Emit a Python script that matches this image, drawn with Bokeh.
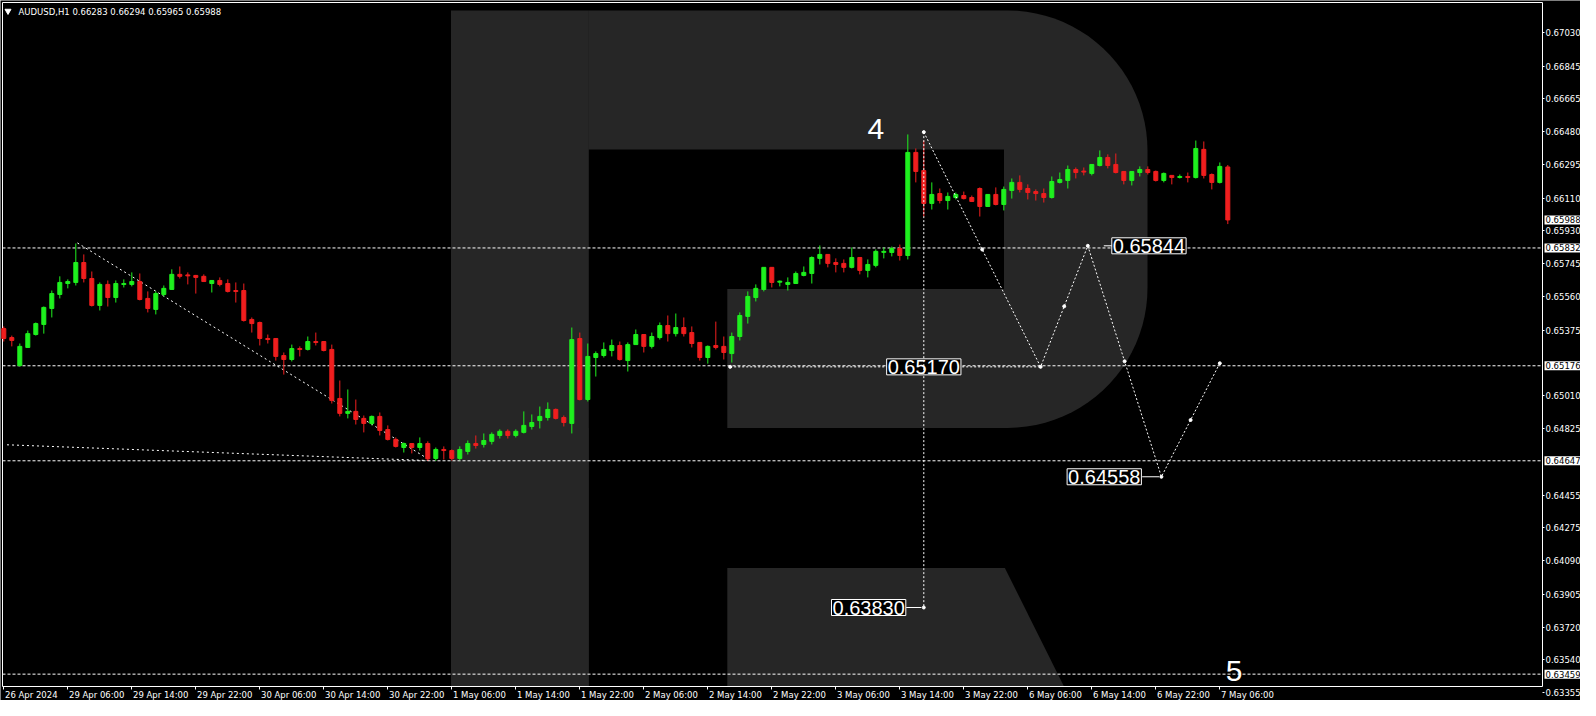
import numpy as np
from bokeh.plotting import figure
from bokeh.models import FixedTicker, PrintfTickFormatter, Label, ColumnDataSource, LinearAxis
from bokeh.embed import file_html
from bokeh.resources import INLINE

# ---------------- data ----------------
title_text = "AUDUSD,H1  0.66283 0.66294 0.65965 0.65988"
time_labels = ["26 Apr 2024", "29 Apr 06:00", "29 Apr 14:00", "29 Apr 22:00", "30 Apr 06:00",
               "30 Apr 14:00", "30 Apr 22:00", "1 May 06:00", "1 May 14:00", "1 May 22:00",
               "2 May 06:00", "2 May 14:00", "2 May 22:00", "3 May 06:00", "3 May 14:00",
               "3 May 22:00", "6 May 06:00", "6 May 14:00", "6 May 22:00", "7 May 06:00"]
bars_per_label = 8

opens = [0.65383, 0.65333, 0.65177, 0.65278, 0.65350, 0.65406, 0.65495, 0.65573, 0.65634, 0.65640,
         0.65751, 0.65662, 0.65512, 0.65629, 0.65556, 0.65631, 0.65629, 0.65645, 0.65551, 0.65490,
         0.65573, 0.65601, 0.65685, 0.65682, 0.65679, 0.65674, 0.65634, 0.65651, 0.65634, 0.65595,
         0.65595, 0.65434, 0.65417, 0.65328, 0.65328, 0.65233, 0.65211, 0.65272, 0.65267, 0.65311,
         0.65311, 0.65267, 0.64994, 0.64911, 0.64922, 0.64883, 0.64855, 0.64894, 0.64821, 0.64766,
         0.64721, 0.64743, 0.64721, 0.64743, 0.64660, 0.64710, 0.64704, 0.64660, 0.64699, 0.64743,
         0.64738, 0.64755, 0.64788, 0.64811, 0.64788, 0.64805, 0.64838, 0.64871, 0.64888, 0.64933,
         0.64888, 0.64855, 0.65328, 0.64988, 0.65222, 0.65233, 0.65261, 0.65289, 0.65205, 0.65294,
         0.65350, 0.65284, 0.65333, 0.65400, 0.65355, 0.65389, 0.65361, 0.65306, 0.65222, 0.65289,
         0.65284, 0.65244, 0.65339, 0.65451, 0.65556, 0.65601, 0.65724, 0.65645, 0.65629, 0.65634,
         0.65679, 0.65690, 0.65774, 0.65796, 0.65751, 0.65746, 0.65724, 0.65779, 0.65707, 0.65735,
         0.65810, 0.65807, 0.65829, 0.65790, 0.66364, 0.66263, 0.66080, 0.66135, 0.66096, 0.66113,
         0.66124, 0.66113, 0.66163, 0.66063, 0.66130, 0.66074, 0.66152, 0.66197, 0.66163, 0.66146,
         0.66135, 0.66113, 0.66197, 0.66208, 0.66269, 0.66260, 0.66247, 0.66291, 0.66336, 0.66297,
         0.66258, 0.66208, 0.66252, 0.66269, 0.66258, 0.66208, 0.66236, 0.66227, 0.66230, 0.66224,
         0.66381, 0.66241, 0.66197, 0.66283]
highs = [0.65395, 0.65344, 0.65300, 0.65372, 0.65417, 0.65506, 0.65595, 0.65674, 0.65657, 0.65857,
         0.65796, 0.65701, 0.65640, 0.65651, 0.65651, 0.65657, 0.65696, 0.65690, 0.65590, 0.65590,
         0.65623, 0.65713, 0.65729, 0.65696, 0.65682, 0.65685, 0.65651, 0.65668, 0.65657, 0.65640,
         0.65634, 0.65445, 0.65422, 0.65350, 0.65328, 0.65250, 0.65294, 0.65284, 0.65339, 0.65361,
         0.65311, 0.65294, 0.65094, 0.65044, 0.64988, 0.64899, 0.64899, 0.64916, 0.64844, 0.64777,
         0.64749, 0.64743, 0.64777, 0.64755, 0.64721, 0.64727, 0.64710, 0.64727, 0.64760, 0.64788,
         0.64799, 0.64805, 0.64822, 0.64822, 0.64822, 0.64922, 0.64905, 0.64949, 0.64972, 0.64938,
         0.64899, 0.65389, 0.65361, 0.65300, 0.65256, 0.65306, 0.65322, 0.65311, 0.65306, 0.65378,
         0.65350, 0.65361, 0.65417, 0.65456, 0.65467, 0.65445, 0.65395, 0.65306, 0.65289, 0.65422,
         0.65339, 0.65361, 0.65473, 0.65590, 0.65629, 0.65724, 0.65724, 0.65651, 0.65668, 0.65701,
         0.65729, 0.65785, 0.65846, 0.65796, 0.65774, 0.65768, 0.65835, 0.65779, 0.65768, 0.65824,
         0.65835, 0.65840, 0.65851, 0.66464, 0.66386, 0.66430, 0.66197, 0.66163, 0.66141, 0.66141,
         0.66146, 0.66124, 0.66169, 0.66130, 0.66169, 0.66174, 0.66219, 0.66236, 0.66186, 0.66158,
         0.66163, 0.66230, 0.66252, 0.66291, 0.66280, 0.66280, 0.66297, 0.66375, 0.66353, 0.66358,
         0.66258, 0.66258, 0.66286, 0.66286, 0.66263, 0.66252, 0.66236, 0.66241, 0.66252, 0.66430,
         0.66425, 0.66247, 0.66308, 0.66294]
lows = [0.65311, 0.65284, 0.65172, 0.65278, 0.65344, 0.65355, 0.65445, 0.65551, 0.65607, 0.65623,
        0.65640, 0.65506, 0.65484, 0.65506, 0.65528, 0.65612, 0.65618, 0.65540, 0.65473, 0.65462,
        0.65562, 0.65601, 0.65662, 0.65629, 0.65578, 0.65645, 0.65584, 0.65618, 0.65584, 0.65528,
        0.65422, 0.65361, 0.65289, 0.65300, 0.65205, 0.65127, 0.65200, 0.65228, 0.65261, 0.65289,
        0.65256, 0.64966, 0.64894, 0.64883, 0.64849, 0.64805, 0.64844, 0.64788, 0.64760, 0.64721,
        0.64693, 0.64688, 0.64704, 0.64647, 0.64647, 0.64654, 0.64648, 0.64650, 0.64682, 0.64715,
        0.64721, 0.64738, 0.64771, 0.64771, 0.64777, 0.64799, 0.64821, 0.64827, 0.64871, 0.64877,
        0.64838, 0.64799, 0.64983, 0.64977, 0.65116, 0.65222, 0.65228, 0.65205, 0.65144, 0.65294,
        0.65250, 0.65272, 0.65322, 0.65311, 0.65339, 0.65339, 0.65278, 0.65205, 0.65188, 0.65267,
        0.65211, 0.65194, 0.65317, 0.65411, 0.65534, 0.65590, 0.65612, 0.65618, 0.65595, 0.65634,
        0.65674, 0.65634, 0.65740, 0.65724, 0.65696, 0.65696, 0.65718, 0.65685, 0.65668, 0.65724,
        0.65774, 0.65785, 0.65762, 0.65768, 0.66197, 0.66007, 0.66046, 0.66080, 0.66046, 0.66102,
        0.66102, 0.66091, 0.66007, 0.66063, 0.66069, 0.66041, 0.66107, 0.66141, 0.66102, 0.66096,
        0.66085, 0.66107, 0.66191, 0.66163, 0.66219, 0.66236, 0.66236, 0.66286, 0.66275, 0.66247,
        0.66186, 0.66180, 0.66230, 0.66241, 0.66202, 0.66197, 0.66186, 0.66219, 0.66197, 0.66219,
        0.66219, 0.66158, 0.66191, 0.65965]
closes = [0.65328, 0.65317, 0.65284, 0.65355, 0.65411, 0.65501, 0.65578, 0.65640, 0.65645, 0.65751,
          0.65662, 0.65512, 0.65629, 0.65556, 0.65634, 0.65634, 0.65645, 0.65545, 0.65495, 0.65578,
          0.65607, 0.65685, 0.65674, 0.65678, 0.65668, 0.65645, 0.65651, 0.65629, 0.65590, 0.65590,
          0.65428, 0.65411, 0.65328, 0.65322, 0.65228, 0.65211, 0.65272, 0.65268, 0.65311, 0.65306,
          0.65261, 0.64983, 0.64911, 0.64922, 0.64877, 0.64855, 0.64894, 0.64816, 0.64766, 0.64727,
          0.64743, 0.64721, 0.64743, 0.64658, 0.64710, 0.64704, 0.64660, 0.64710, 0.64743, 0.64732,
          0.64760, 0.64794, 0.64811, 0.64788, 0.64811, 0.64844, 0.64860, 0.64894, 0.64933, 0.64883,
          0.64860, 0.65322, 0.64988, 0.65228, 0.65244, 0.65267, 0.65289, 0.65211, 0.65294, 0.65350,
          0.65284, 0.65339, 0.65400, 0.65355, 0.65389, 0.65355, 0.65300, 0.65222, 0.65284, 0.65278,
          0.65250, 0.65339, 0.65456, 0.65562, 0.65607, 0.65724, 0.65640, 0.65647, 0.65640, 0.65690,
          0.65696, 0.65779, 0.65796, 0.65746, 0.65740, 0.65724, 0.65779, 0.65707, 0.65740, 0.65813,
          0.65813, 0.65829, 0.65790, 0.66364, 0.66258, 0.66080, 0.66130, 0.66096, 0.66119, 0.66130,
          0.66107, 0.66091, 0.66063, 0.66130, 0.66074, 0.66158, 0.66197, 0.66158, 0.66141, 0.66135,
          0.66113, 0.66202, 0.66213, 0.66269, 0.66252, 0.66258, 0.66297, 0.66336, 0.66291, 0.66252,
          0.66208, 0.66258, 0.66269, 0.66252, 0.66208, 0.66247, 0.66224, 0.66230, 0.66227, 0.66386,
          0.66236, 0.66197, 0.66286, 0.65988]

level_prices = [0.65832, 0.65176, 0.64647, 0.63459]
current_price = 0.65988
y_tick_values = [0.67030, 0.66845, 0.66665, 0.66480, 0.66295, 0.66110, 0.65930, 0.65745, 0.65560,
                 0.65375, 0.65010, 0.64825, 0.64455, 0.64275, 0.64090, 0.63905, 0.63720, 0.63540,
                 0.63355]

# forecast path (bar index, price)
forecast_x = [115.0, 129.6, 135.5, 144.7, 152.0]
forecast_p = [0.66477, 0.65170, 0.65844, 0.64558, 0.65190]
forecast_texts = ["0.65170", "0.65844", "0.64558"]
target_price = 0.63830
target_text = "0.63830"
line_5170_start = 90.8
wave_labels = ["4", "5"]
wave_x = [109.0, 153.8]
wave_p = [0.66497, 0.63479]

trend1_x = [9.2, 53.3]
trend1_p = [0.65860, 0.64650]
trend2_x = [0.4, 53.3]
trend2_p = [0.64736, 0.64648]

# ---------------- geometry helpers (pixel -> data, for decorations) ----------------
BAR_PX = 8.0
PX_BAR0 = 3.3
PRICE_PER_PX = 0.00005568
PRICE_AT_Y0 = 0.6720985
W, H = 1580, 700
AXIS_X = 1542     # pixel x of the price-scale line
AXIS_Y = 686      # pixel y of the time-scale line
BORDER = 2


def PX(x):
    return (x - PX_BAR0) / BAR_PX


def PY(y):
    return PRICE_AT_Y0 - PRICE_PER_PX * y


X0, X1 = PX(0), PX(W)
Y1, Y0 = PY(0), PY(H)

GREEN = "#1ef01e"
RED = "#f01e1e"
WM = "#262626"
FONT = "DejaVu Sans"

p = figure(width=W, height=H, x_range=(X0, X1), y_range=(Y0, Y1),
           output_backend="svg", toolbar_location=None, y_axis_location="right",
           background_fill_color="black", border_fill_color="black", min_border=0)
p.grid.visible = False
p.outline_line_color = None

# ---- axes (fixed inside the canvas) ----
ya = p.yaxis[0]
ya.fixed_location = PX(AXIS_X)
ya.bounds = (PY(AXIS_Y), PY(BORDER))
ya.ticker = FixedTicker(ticks=y_tick_values)
ya.formatter = PrintfTickFormatter(format="%.5f")
ya.axis_line_color = "white"
ya.major_tick_line_color = "white"
ya.minor_tick_line_color = None
ya.major_tick_in = 0
ya.major_tick_out = 2
ya.major_label_standoff = 1
ya.major_label_text_color = "white"
ya.major_label_text_font = FONT
ya.major_label_text_font_size = "8.5px"

tick_pos = [k * bars_per_label for k in range(len(time_labels))]
xa = p.xaxis[0]
xa.fixed_location = PY(AXIS_Y)
xa.bounds = (PX(BORDER), PX(AXIS_X))
xa.ticker = FixedTicker(ticks=tick_pos)
xa.axis_line_color = "white"
xa.major_tick_line_color = "white"
xa.minor_tick_line_color = None
xa.major_tick_in = 0
xa.major_tick_out = 3
xa.major_label_text_color = None

# labels start at their tick: shift each label by half its (DejaVu Sans) width
EM = {"0": .636, "1": .636, "2": .636, "3": .636, "4": .636, "5": .636, "6": .636, "7": .636,
      "8": .636, "9": .636, " ": .318, ":": .337, "A": .684, "p": .635, "r": .411, "M": .863,
      "a": .613, "y": .592}
label_pos = [t + 0.5 * sum(EM.get(ch, .6) for ch in s) * 8.5 / BAR_PX + 0.15
             for t, s in zip(tick_pos, time_labels)]
la = LinearAxis(fixed_location=PY(AXIS_Y), ticker=FixedTicker(ticks=label_pos),
                major_label_overrides={lp: s for lp, s in zip(label_pos, time_labels)},
                axis_line_color=None, major_tick_line_color=None, minor_tick_line_color=None,
                major_tick_out=0, major_tick_in=0, major_label_standoff=3,
                major_label_text_color="white", major_label_text_font=FONT,
                major_label_text_font_size="8.5px")
p.add_layout(la, "below")

# ---------------- watermark "R" ----------------
r = 140
t1 = np.linspace(-np.pi / 2, 0, 24)
t2 = np.linspace(0, np.pi / 2, 24)
bowl_x = [588.4] + list(1007 + r * np.cos(t1)) + list(1007 + r * np.cos(t2)) + [588.4]
bowl_y = [10] + list(150 + r * np.sin(t1)) + list(287.4 + r * np.sin(t2)) + [427.4]
stem_x = [450.5, 588.4, 588.4, 450.5]
stem_y = [10, 10, AXIS_Y, AXIS_Y]
leg_x = [726.8, 1004.4, 1063.5, 726.8]
leg_y = [567.6, 567.6, AXIS_Y, AXIS_Y]
p.patches([[PX(v) for v in s] for s in (stem_x, bowl_x, leg_x)],
          [[PY(v) for v in s] for s in (stem_y, bowl_y, leg_y)],
          fill_color=WM, line_color=None)
cut_x = [[588.4, 1003.5, 1003.5, 588.4], [588.4, 726.8, 726.8, 588.4]]
cut_y = [[148.9, 148.9, 288.6, 288.6], [288.6, 288.6, 427.4, 427.4]]
p.patches([[PX(v) for v in s] for s in cut_x], [[PY(v) for v in s] for s in cut_y],
          fill_color="black", line_color=None)

# chart border (left and top)
p.segment(x0=[PX(BORDER), PX(BORDER)], y0=[PY(BORDER), PY(BORDER)],
          x1=[PX(BORDER), PX(AXIS_X)], y1=[PY(AXIS_Y), PY(BORDER)],
          line_color="white", line_width=1)

# ---------------- horizontal levels and trend lines ----------------
n_lv = len(level_prices)
p.segment(x0=[PX(BORDER)] * n_lv, x1=[PX(AXIS_X)] * n_lv, y0=level_prices, y1=level_prices,
          line_color="white", line_width=1, line_dash="3 2")
p.line(trend1_x, trend1_p, line_color="white", line_width=1, line_dash="2 3")
p.line(trend2_x, trend2_p, line_color="white", line_width=1, line_dash="2 3")

# ---------------- candles ----------------
o = np.array(opens)
c = np.array(closes)
h = np.array(highs)
lo = np.array(lows)
xi = np.arange(len(o))
up = c >= o
top = np.maximum(o, c)
bot = np.minimum(o, c)
bot = np.where(top - bot < PRICE_PER_PX, top - PRICE_PER_PX, bot)
src = ColumnDataSource(dict(x=xi, top=top, bottom=bot, high=h, low=lo,
                            color=np.where(up, GREEN, RED)))
p.segment(x0="x", y0="high", x1="x", y1="low", line_color="color", line_width=1, source=src)
p.vbar(x="x", width=0.5, top="top", bottom="bottom", fill_color="color",
       line_color="color", line_width=1, source=src)

# ---------------- forecast drawing ----------------
p.line(forecast_x, forecast_p, line_color="white", line_width=1, line_dash="2 2")
vline = p.segment(x0=[forecast_x[0]], y0=[forecast_p[0]], x1=[forecast_x[0]], y1=[target_price],
                  line_color="white", line_width=1, line_dash="2 2")
vline.level = "overlay"
p.segment(x0=[line_5170_start], y0=[forecast_p[1]], x1=[forecast_x[1]], y1=[forecast_p[1]],
          line_color="white", line_width=1, line_dash="2 2")
fx = np.array(forecast_x)
fp = np.array(forecast_p)
mid_x = (fx[:-1] + fx[1:]) / 2
mid_p = (fp[:-1] + fp[1:]) / 2
mk_x = list(fx) + list(mid_x) + [forecast_x[0], line_5170_start]
mk_p = list(fp) + list(mid_p) + [target_price, forecast_p[1]]
p.scatter(mk_x, mk_p, marker="circle", size=3, fill_color="white", line_color="white")

p.segment(x0=[forecast_x[0] - 2.2, forecast_x[2] + 2.0, forecast_x[3] - 2.4],
          x1=[forecast_x[0] - 0.3, forecast_x[2] + 3.3, forecast_x[3] - 0.3],
          y0=[target_price, forecast_p[2], forecast_p[3]],
          y1=[target_price, forecast_p[2], forecast_p[3]], line_color="white", line_width=1)


def big_box(x, y, text, align, xoff):
    p.add_layout(Label(x=x, y=y, text=text, x_offset=xoff, text_align=align,
                       text_baseline="middle", text_color="white", text_font="Liberation Sans",
                       text_font_size="20px", background_fill_color="black",
                       border_line_color="white", border_line_width=1, padding=1))


big_box(forecast_x[0], forecast_p[1], forecast_texts[0], "center", 0)
big_box(forecast_x[2], forecast_p[2], forecast_texts[1], "left", 24)
big_box(forecast_x[3], forecast_p[3], forecast_texts[2], "right", -20)
big_box(forecast_x[0], target_price, target_text, "right", -18)

for t, wx, wp in zip(wave_labels, wave_x, wave_p):
    p.add_layout(Label(x=wx, y=wp, text=t, text_align="center", text_baseline="middle",
                       text_color="white", text_font="Liberation Sans", text_font_size="30px"))

# ---------------- price boxes on the right scale ----------------
for val in [current_price] + level_prices:
    p.add_layout(Label(x=PX(AXIS_X + 2), y=val, text=f"{val:.5f}", text_align="left",
                       text_baseline="middle", text_color="black", text_font=FONT,
                       text_font_size="8.5px", background_fill_color="white", padding=1))

# title
p.scatter([PX(7.5)], [PY(10.5)], marker="inverted_triangle", size=6, fill_color="white",
          line_color="white")
p.add_layout(Label(x=PX(18), y=PY(11), text=title_text, text_align="left",
                   text_baseline="middle", text_color="white", text_font=FONT,
                   text_font_size="8.5px"))

open("out.html", "w").write(file_html(p, INLINE))
